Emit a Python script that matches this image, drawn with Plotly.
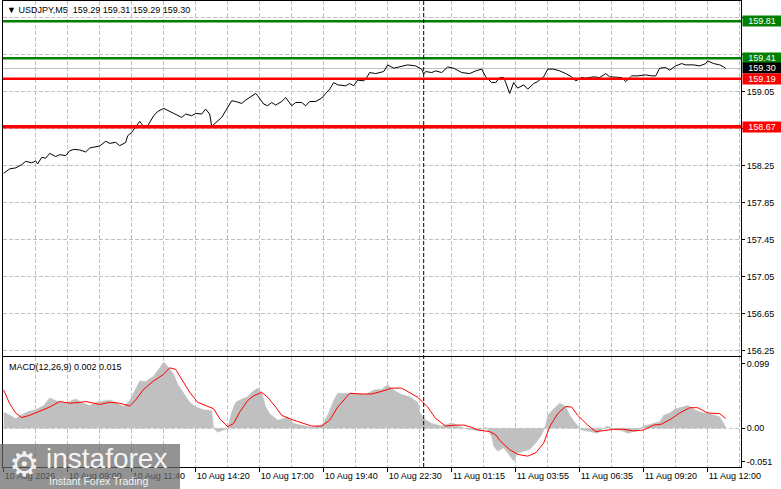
import plotly.graph_objects as go

# ---------------- data ----------------
price_bar = [0, 3, 6, 9, 11, 14, 16, 17, 19, 21, 23, 26, 28, 31, 33, 35, 38, 41, 43, 46,
             48, 51, 53, 56, 58, 61, 62, 64, 66, 68, 70, 72, 75, 77, 80, 83, 86, 89, 91, 94,
             96, 99, 101, 103, 104, 106, 109, 111, 114, 116, 119, 121, 126, 127, 130, 132, 134, 136, 139, 141,
             144, 146, 149, 151, 153, 156, 159, 161, 163, 165, 167, 171, 173, 175, 177, 180, 181, 183, 186, 190,
             192, 195, 198, 202, 206, 209, 210, 211, 214, 216, 219, 222, 225, 229, 233, 236, 239, 241, 244, 246,
             248, 250, 251, 253, 255, 257, 260, 262, 265, 267, 270, 272, 275, 278, 281, 284, 286, 289, 291, 295,
             298, 301, 303, 306, 309, 311, 314, 317, 321, 324, 326, 328, 331, 333, 336, 339, 341, 345, 348, 351,
             352, 355, 358, 360, 361]
price = [158.167, 158.214, 158.225, 158.260, 158.296, 158.279, 158.300, 158.268, 158.339, 158.330,
         158.382, 158.347, 158.368, 158.357, 158.410, 158.425, 158.419, 158.397, 158.440, 158.454,
         158.462, 158.512, 158.490, 158.501, 158.465, 158.500, 158.573, 158.609, 158.663, 158.728,
         158.670, 158.681, 158.789, 158.835, 158.868, 158.835, 158.807, 158.771, 158.807, 158.789,
         158.814, 158.807, 158.861, 158.807, 158.674, 158.717, 158.771, 158.843, 158.951, 158.943,
         158.922, 158.958, 159.030, 159.005, 158.915, 158.897, 158.932, 158.904, 158.943, 158.986,
         158.897, 158.932, 158.932, 158.897, 158.943, 158.943, 158.980, 159.030, 159.077, 159.148,
         159.123, 159.113, 159.137, 159.113, 159.174, 159.167, 159.185, 159.256, 159.245, 159.267,
         159.339, 159.303, 159.320, 159.339, 159.328, 159.293, 159.239, 159.267, 159.256, 159.274,
         159.256, 159.317, 159.303, 159.256, 159.245, 159.274, 159.293, 159.210, 159.148, 159.148,
         159.202, 159.202, 159.148, 159.030, 159.148, 159.088, 159.123, 159.077, 159.137, 159.159,
         159.210, 159.293, 159.293, 159.274, 159.245, 159.210, 159.166, 159.202, 159.195, 159.210,
         159.202, 159.245, 159.210, 159.210, 159.202, 159.159, 159.220, 159.220, 159.231, 159.220,
         159.220, 159.303, 159.310, 159.282, 159.328, 159.353, 159.339, 159.339, 159.328, 159.353,
         159.382, 159.353, 159.339, 159.317, 159.300]

hist_bar = [0, 3, 6, 10, 13, 16, 20, 23, 26, 29, 31, 34, 36, 40, 43, 46, 50, 53, 56, 60,
            63, 66, 68, 71, 75, 78, 80, 82, 85, 87, 90, 93, 96, 100, 103, 104, 105, 107, 110, 112,
            114, 116, 119, 122, 124, 127, 129, 131, 133, 137, 140, 142, 145, 149, 154, 159, 162, 165, 167, 171,
            176, 181, 185, 189, 192, 195, 199, 203, 207, 208, 210, 214, 219, 224, 228, 232, 237, 241, 244, 245,
            247, 250, 253, 255, 257, 260, 263, 266, 269, 271, 272, 275, 278, 281, 283, 286, 289, 293, 297, 300,
            302, 305, 309, 312, 317, 320, 324, 328, 330, 333, 336, 340, 342, 346, 350, 354, 358, 361]
hist = [0.025, 0.020, 0.015, 0.0226, 0.0267, 0.0287, 0.035, 0.0468, 0.0427, 0.040,
        0.0387, 0.0427, 0.0452, 0.0387, 0.035, 0.040, 0.0427, 0.0437, 0.040, 0.0336,
        0.0427, 0.060, 0.0729, 0.072, 0.0804, 0.093, 0.102, 0.0955, 0.083, 0.068,
        0.053, 0.040, 0.0327, 0.0287, 0.0276, 0.027, 0.0, -0.006, -0.0025, 0.0,
        0.025, 0.040, 0.045, 0.0487, 0.0553, 0.0618, 0.0553, 0.0327, 0.0226, 0.0125,
        0.015, 0.0176, 0.0075, 0.005, 0.0015, 0.005, 0.020, 0.0427, 0.0538, 0.0538,
        0.0538, 0.0518, 0.0588, 0.060, 0.0668, 0.0588, 0.0518, 0.0487, 0.040, 0.025,
        0.015, 0.0075, 0.0035, 0.0085, 0.0025, -0.0015, -0.0035, 0.0015, -0.0125, -0.0276,
        -0.035, -0.030, -0.0427, -0.050, -0.0377, -0.035, -0.0327, -0.0226, -0.010, 0.005,
        0.020, 0.030, 0.0387, 0.0336, 0.020, 0.0075, -0.0025, -0.005, -0.0075, 0.0,
        0.0035, -0.0015, -0.0035, -0.0075, -0.0035, 0.0035, 0.0065, 0.010, 0.020, 0.0236,
        0.030, 0.0336, 0.035, 0.0276, 0.0236, 0.0216, 0.0176, 0.002]

sig_bar = [0, 3, 6, 9, 13, 18, 23, 28, 33, 38, 41, 48, 53, 58, 63, 66, 70, 75, 80, 83,
           86, 89, 93, 97, 102, 105, 108, 112, 115, 118, 122, 125, 129, 132, 136, 139, 144, 148, 154, 159,
           163, 167, 173, 179, 184, 189, 194, 199, 204, 207, 212, 216, 221, 226, 230, 234, 237, 241, 243, 246,
           248, 253, 257, 262, 266, 270, 273, 277, 281, 284, 287, 292, 296, 300, 305, 310, 315, 320, 325, 329,
           334, 338, 343, 347, 352, 358, 361]
sig = [0.0588, 0.0377, 0.0236, 0.0166, 0.020, 0.026, 0.0327, 0.0412, 0.0387, 0.0397,
       0.0412, 0.0367, 0.040, 0.0387, 0.0342, 0.0437, 0.060, 0.0729, 0.083, 0.093,
       0.0905, 0.0754, 0.0553, 0.040, 0.0336, 0.030, 0.015, 0.0025, 0.0075, 0.025,
       0.0427, 0.050, 0.0553, 0.0478, 0.0327, 0.020, 0.0136, 0.010, 0.0035, 0.0035,
       0.0125, 0.0327, 0.0538, 0.0528, 0.0528, 0.0568, 0.0618, 0.0618, 0.0528, 0.0478,
       0.0327, 0.015, 0.0035, 0.005, 0.005, 0.0015, -0.0025, -0.0035, -0.005, -0.010,
       -0.0186, -0.0327, -0.040, -0.0427, -0.0377, -0.0226, 0.0025, 0.0226, 0.0336, 0.0327,
       0.020, 0.005, -0.005, -0.0035, -0.0015, -0.0015, -0.004, -0.0025, 0.005, 0.0065,
       0.015, 0.0236, 0.0317, 0.0317, 0.0236, 0.0226, 0.015]

levels_green = [159.81, 159.41]
levels_red = [159.19, 158.67]
last_price = 159.30
separator_bar = 210

xtick_bars = [0, 32, 64, 96, 128, 160, 192, 224, 256, 288, 320, 352]
xtick_text = ["10 Aug 2026", "10 Aug 09:00", "10 Aug 11:40", "10 Aug 14:20", "10 Aug 17:00",
              "10 Aug 19:40", "10 Aug 22:30", "11 Aug 01:15", "11 Aug 03:55", "11 Aug 06:35",
              "11 Aug 09:20", "11 Aug 12:00"]
xgrid_minor = [16, 48, 80, 112, 144, 176, 208, 240, 272, 304, 336, 368]
ytick_vals = [156.25, 156.65, 157.05, 157.45, 157.85, 158.25, 158.65, 159.05, 159.45, 159.85]
ytick_hidden = [158.65, 159.45, 159.85]   # covered by the level boxes in the reference
macd_ticks = [0.099, 0.0, -0.051]
macd_ticktext = ["0.099", "0.00", "-0.051"]
header_text = "USDJPY,M5  159.29 159.31 159.29 159.30"
macd_label = "MACD(12,26,9) 0.002 0.015"

# ---------------- figure ----------------
W, H = 781, 489
ML, MR, MT, MB = 3, 40, 1, 22
PW, PH = W - ML - MR, H - MT - MB
FONT = "Liberation Sans, Arial, sans-serif"
GRID = "#c0c0c0"


def px_x(px):
    return (px - ML) / PW


def px_y(py):
    return (H - MB - py) / PH


fig = go.Figure()

fig.add_trace(go.Scatter(x=price_bar, y=price, mode="lines",
                         line=dict(color="black", width=1), xaxis="x", yaxis="y",
                         hoverinfo="skip"))
fig.add_trace(go.Scatter(x=hist_bar, y=hist, mode="lines", fill="tozeroy",
                         fillcolor="#c0c0c0", line=dict(color="#c0c0c0", width=0.5),
                         xaxis="x2", yaxis="y2", hoverinfo="skip"))
fig.add_trace(go.Scatter(x=sig_bar, y=sig, mode="lines",
                         line=dict(color="#ff0000", width=1), xaxis="x2", yaxis="y2",
                         hoverinfo="skip"))

xr = [-0.35, 368.65]
axis_common = dict(showline=True, mirror=True, linecolor="black", linewidth=1,
                   zeroline=False)

fig.update_layout(
    width=W, height=H,
    margin=dict(l=ML, r=MR, t=MT, b=MB, autoexpand=False),
    paper_bgcolor="white", plot_bgcolor="white",
    showlegend=False, hovermode=False,
    font=dict(family=FONT, size=9, color="black"),
    xaxis=dict(domain=[0, 1], range=xr, anchor="y", tickvals=xtick_bars,
               showticklabels=False, ticks="", showgrid=True, gridcolor=GRID,
               griddash="4px,2px", gridwidth=1,
               minor=dict(tickvals=xgrid_minor, showgrid=True, gridcolor=GRID,
                          griddash="4px,2px", ticks=""),
               **axis_common),
    yaxis=dict(domain=[px_y(356), 1], range=[156.19, 160.03], side="right",
               tickvals=ytick_vals,
               ticktext=["" if v in ytick_hidden else f"{v:.2f}" for v in ytick_vals],
               ticks="outside", ticklen=3, tickcolor="black",
               showgrid=True, gridcolor=GRID, griddash="4px,2px",
               tickfont=dict(family=FONT, size=9, color="black"),
               automargin=False,
               **axis_common),
    xaxis2=dict(domain=[0, 1], range=xr, anchor="y2", matches="x",
                tickvals=xtick_bars, ticktext=xtick_text,
                ticks="outside", ticklen=4, tickcolor="black",
                ticklabelposition="outside right",
                tickfont=dict(family=FONT, size=9, color="black"),
                showgrid=True, gridcolor=GRID, griddash="4px,2px",
                minor=dict(tickvals=xgrid_minor, showgrid=True, gridcolor=GRID,
                           griddash="4px,2px", ticks=""),
                automargin=False,
                **axis_common),
    yaxis2=dict(domain=[0, px_y(357)], range=[-0.0594, 0.1096], side="right",
                anchor="x2", tickvals=macd_ticks, ticktext=macd_ticktext,
                ticks="outside", ticklen=3, tickcolor="black",
                showgrid=False,
                tickfont=dict(family=FONT, size=9, color="black"),
                automargin=False,
                **axis_common),
)

shapes = []
# zero line of MACD (dashed)
shapes.append(dict(type="line", xref="x2", yref="y2", x0=xr[0], x1=xr[1], y0=0, y1=0,
                   line=dict(color=GRID, width=1, dash="4px,2px"), layer="below"))
# bid line
shapes.append(dict(type="line", xref="paper", yref="y", x0=0, x1=1, y0=last_price, y1=last_price,
                   line=dict(color="#c0c0c0", width=1), layer="below"))
for lv in levels_green:
    shapes.append(dict(type="line", xref="paper", yref="y", x0=0, x1=1, y0=lv, y1=lv,
                       line=dict(color="#008000", width=2.5), layer="above"))
for i, lv in enumerate(levels_red):
    shapes.append(dict(type="line", xref="paper", yref="y", x0=0, x1=1, y0=lv, y1=lv,
                       line=dict(color="#ff0000", width=2.5 if i == 0 else 3.5), layer="above"))
# day separator
shapes.append(dict(type="line", xref="x", yref="paper", x0=separator_bar, x1=separator_bar,
                   y0=0, y1=1, line=dict(color="black", width=1, dash="4px,2px"), layer="above"))
# watermark box
shapes.append(dict(type="rect", xref="paper", yref="paper",
                   x0=px_x(0), x1=px_x(180), y0=px_y(489), y1=px_y(444),
                   fillcolor="rgba(105,105,105,0.72)", line=dict(width=0), layer="above"))
fig.update_layout(shapes=shapes)

ann = []
ann.append(dict(xref="paper", yref="paper", x=px_x(5), y=px_y(10), xanchor="left",
                yanchor="middle", showarrow=False, text="\u25BC " + header_text,
                font=dict(family=FONT, size=9, color="black")))
ann.append(dict(xref="paper", yref="paper", x=px_x(7), y=px_y(367), xanchor="left",
                yanchor="middle", showarrow=False, text=macd_label,
                font=dict(family=FONT, size=9, color="black")))


def level_box(val, color):
    return dict(xref="paper", yref="y", x=px_x(742), y=val, xanchor="left", yanchor="middle",
                showarrow=False, text=f"{val:.2f}", bgcolor=color, width=37, height=9,
                borderpad=0.5, align="center",
                font=dict(family=FONT, size=9, color="white"))


for lv in levels_green:
    ann.append(level_box(lv, "#008000"))
ann.append(level_box(last_price, "#000000"))
for lv in levels_red:
    ann.append(level_box(lv, "#ff0000"))

# watermark
ann.append(dict(xref="paper", yref="paper", x=px_x(24), y=px_y(464), xanchor="center",
                yanchor="middle", showarrow=False, text="\u2699",
                font=dict(family="DejaVu Sans", size=34, color="rgba(255,255,255,0.9)")))
ann.append(dict(xref="paper", yref="paper", x=px_x(44), y=px_y(458), xanchor="left",
                yanchor="middle", showarrow=False, text="instaforex",
                font=dict(family=FONT, size=28, color="rgba(255,255,255,0.92)")))
ann.append(dict(xref="paper", yref="paper", x=px_x(47), y=px_y(481), xanchor="left",
                yanchor="middle", showarrow=False, text="Instant Forex Trading",
                font=dict(family=FONT, size=10.5, color="rgba(255,255,255,0.9)")))
fig.update_layout(annotations=ann)

fig.write_html("out.html", config={"displayModeBar": False, "staticPlot": True},
               post_script="document.body.style.margin='0px';document.body.style.overflow='hidden';")
